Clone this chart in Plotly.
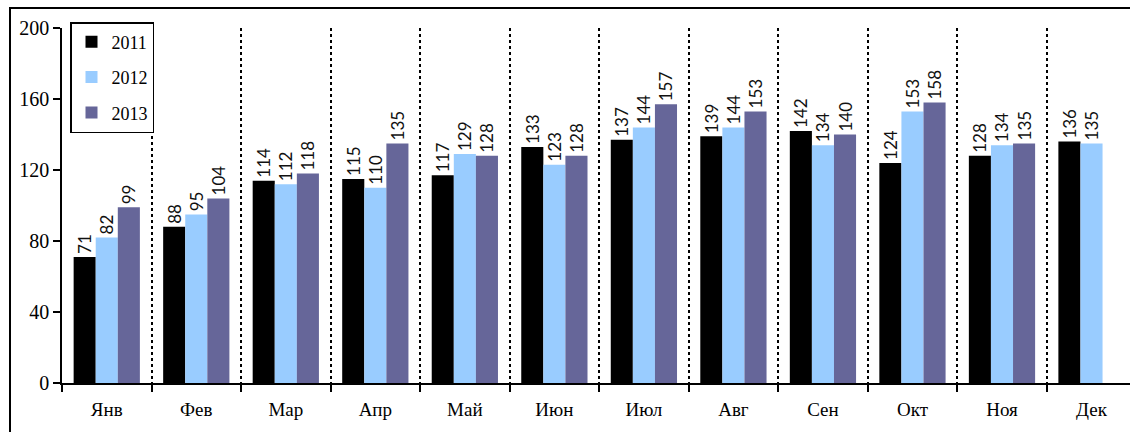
import plotly.graph_objects as go

months = ["Янв", "Фев", "Мар", "Апр", "Май", "Июн", "Июл", "Авг", "Сен", "Окт", "Ноя", "Дек"]
v2011 = [71, 88, 114, 115, 117, 133, 137, 139, 142, 124, 128, 136]
v2012 = [82, 95, 112, 110, 129, 123, 144, 144, 134, 153, 134, 135]
v2013 = [99, 104, 118, 135, 128, 128, 157, 153, 140, 158, 135, None]
ytick_vals = [0, 40, 80, 120, 160, 200]

series = [("2011", v2011, "#000000"), ("2012", v2012, "#99CCFF"), ("2013", v2013, "#666699")]

fig = go.Figure()
for name, vals, col in series:
    fig.add_trace(go.Bar(
        x=months, y=vals, name=name, legendgroup=name,
        marker=dict(color=col, line=dict(width=0)),
        text=[("" if v is None else str(v)) for v in vals],
        textposition="outside", textangle=-90, constraintext="none",
        cliponaxis=False,
        textfont=dict(family="Lato", size=17, color="#111111"),
    ))

L, T, B = 62, 28, 49
W, H = 1130, 432
pw = W - L
ph = H - T - B

fig.update_layout(
    width=W, height=H,
    margin=dict(l=L, r=0, t=T, b=B, pad=0, autoexpand=False),
    paper_bgcolor="white", plot_bgcolor="white",
    barmode="group", bargap=0.26, bargroupgap=0,
    showlegend=True,
    legend=dict(
        x=(70 - L) / pw, y=(H - B - 22) / ph, xanchor="left", yanchor="top",
        bgcolor="white", bordercolor="#000000", borderwidth=1.5,
        font=dict(family="Liberation Serif", size=18, color="#000000"),
        traceorder="grouped", tracegroupgap=9,
        itemwidth=30,
    ),
    xaxis=dict(
        type="category", range=[-0.5, 11.43], automargin=False,
        showline=True, linecolor="#000000", linewidth=1.5,
        ticks="outside", ticklen=7, tickcolor="#000000", tickwidth=1.5,
        tickson="boundaries",
        showgrid=True, gridcolor="#000000", griddash="3px,3px", gridwidth=1.5,
        tickfont=dict(family="Liberation Serif", size=19, color="#000000"),
        ticklabelstandoff=8,
        zeroline=False,
    ),
    yaxis=dict(
        range=[0, 200], tickvals=ytick_vals, automargin=False,
        showline=True, linecolor="#000000", linewidth=1.5,
        ticks="outside", ticklen=7, tickcolor="#000000", tickwidth=1.5,
        showgrid=False, zeroline=False,
        tickfont=dict(family="Liberation Serif", size=20, color="#000000"),
    ),
    shapes=[dict(
        type="rect", xref="paper", yref="paper",
        x0=(10 - L) / pw, x1=1.2, y0=-0.3, y1=(H - B - 8) / ph,
        line=dict(color="#000000", width=2), layer="below",
    )],
)

fig.write_html(
    "out.html",
    config={"displayModeBar": False},
    post_script="document.body.style.margin='0';document.body.style.overflow='hidden';",
)
